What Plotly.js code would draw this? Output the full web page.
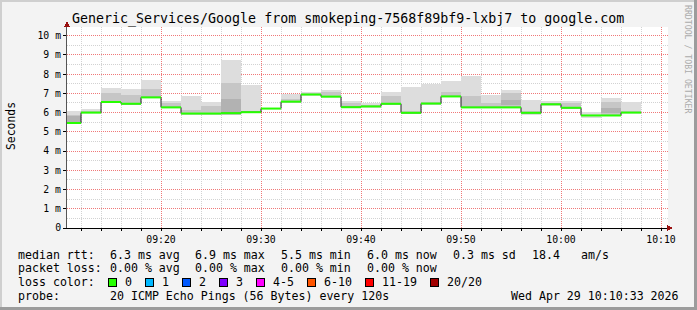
<!DOCTYPE html>
<html>
<head>
<meta charset="utf-8">
<script src="https://cdn.plot.ly/plotly-3.0.1.min.js"></script>
<style>html,body{margin:0;padding:0;background:#f3f3f3;}#chart{width:697px;height:310px;}
g.shapelayer path{shape-rendering:crispEdges;}</style>
</head>
<body>
<div id="chart"></div>
<script>
// ---- data ----
var stepEnd = ['09:12','09:14','09:16','09:18','09:20','09:22','09:24','09:26','09:28','09:30',
               '09:32','09:34','09:36','09:38','09:40','09:42','09:44','09:46','09:48','09:50',
               '09:52','09:54','09:56','09:58','10:00','10:02','10:04','10:06','10:08'];
var medianRtt = [5.46,6.00,6.55,6.46,6.79,6.27,5.95,5.95,5.97,6.02,
                 6.21,6.57,6.94,6.83,6.28,6.32,6.46,5.99,6.47,6.84,
                 6.27,6.27,6.27,5.99,6.43,6.25,5.85,5.85,6.00];
var pingMin = [5.40,5.98,6.50,6.37,6.75,6.24,5.85,5.85,5.85,5.97,
               6.18,6.52,6.88,6.80,6.24,6.22,6.37,5.95,6.42,6.80,
               6.22,6.22,6.22,5.90,6.33,6.20,5.74,5.80,5.97];
var pingMax = [6.10,6.20,7.30,7.24,7.70,6.61,6.84,6.53,8.75,7.41,
               6.25,6.96,7.07,7.15,6.61,6.49,7.05,7.31,7.50,7.66,
               7.88,6.89,7.15,6.67,6.61,6.61,6.03,6.77,6.53];
var pingLo = [5.45,6.00,6.58,6.45,6.80,6.28,5.92,5.92,5.90,5.98,
              6.20,6.55,6.92,6.84,6.28,6.30,6.50,5.98,6.45,6.84,
              6.30,6.27,6.30,5.98,6.42,6.25,5.82,5.90,5.98];
var pingHi = [5.90,6.10,7.00,6.93,7.24,6.50,6.15,6.32,7.53,6.10,
              6.22,6.70,7.02,7.05,6.50,6.38,6.84,6.10,6.55,7.05,
              6.84,6.50,7.00,6.10,6.50,6.50,5.90,6.53,6.10];
var pingLo2 = [5.50,null,null,null,null,null,null,null,6.04,null,
               null,null,null,null,null,null,null,null,null,null,
               null,null,6.40,null,null,null,null,5.97,null];
var pingHi2 = [5.80,null,null,null,null,null,null,null,6.72,null,
               null,null,null,null,null,null,null,null,null,null,
               null,null,6.67,null,null,null,null,6.24,null];
var yTickVals = [0,1,2,3,4,5,6,7,8,9,10];
var yTickText = ['0','1 m','2 m','3 m','4 m','5 m','6 m','7 m','8 m','9 m','10 m'];
var lossLabels = ['0','1','2','3','4-5','6-10','11-19','20/20'];
var lossColors = ['#26ff00','#00b8ff','#0059ff','#7e00ff','#ff00ff','#ff5500','#ff0000','#a10000'];

// ---- helpers ----
var STEP = 120000;
function toMs(hm, s) { var p = hm.split(':'); return Date.UTC(2026, 3, 29, +p[0], +p[1], s || 0); }
var ends = stepEnd.map(function (t) { return toMs(t); });
var starts = ends.map(function (e) { return e - STEP; });
var mids = ends.map(function (e) { return e - STEP / 2; });

var L = 67, R = 668, T = 27, B = 228, W = 697, H = 310;
function px(x) { return (x - L) / (R - L); }
function py(y) { return (B - y) / (B - T); }

function band(lo, hi, color) {
  return {
    type: 'bar', x: mids, base: lo,
    y: lo.map(function (v, i) { return (v == null || hi[i] == null) ? null : hi[i] - v; }),
    width: STEP, marker: { color: color, line: { width: 0 } },
    hoverinfo: 'skip', showlegend: false
  };
}

var traces = [];
traces.push(band(pingMin, pingMax, '#dddddd'));
traces.push(band(pingLo, pingHi, '#c6c6c6'));
traces.push(band(pingLo2, pingHi2, '#b2b2b2'));

// connecting step line (black verticals)
traces.push({
  type: 'scatter', mode: 'lines',
  x: starts.concat([ends[ends.length - 1]]),
  y: medianRtt.concat([medianRtt[medianRtt.length - 1]]),
  line: { shape: 'hv', color: '#202020', width: 1 }, hoverinfo: 'skip', showlegend: false
});
// green median segments
var gx = [], gy = [];
for (var i = 0; i < medianRtt.length; i++) {
  gx.push(starts[i], ends[i], null); gy.push(medianRtt[i], medianRtt[i], null);
}
traces.push({
  type: 'scatter', mode: 'lines', x: gx, y: gy,
  line: { color: lossColors[0], width: 2 }, hoverinfo: 'skip', showlegend: false
});

var mono = 'DejaVu Sans Mono, monospace';
var ann = [];
function txt(x, y, s, opt) {
  opt = opt || {};
  ann.push({
    xref: 'paper', yref: 'paper', x: px(x), y: py(y), text: s, showarrow: false,
    xanchor: opt.xanchor || 'left', yanchor: 'middle', textangle: opt.angle || 0,
    font: { family: mono, size: opt.size || 11.6, color: opt.color || '#000' }
  });
}
txt(348, 19, 'Generic_Services/Google from smokeping-7568f89bf9-lxbj7 to google.com', { xanchor: 'center', size: 13.3 });
txt(11, 126, 'Seconds', { xanchor: 'center', angle: -90, size: 11.4 });
txt(688, 59, 'RRDTOOL / TOBI OETIKER', { xanchor: 'center', angle: 90, size: 8.2, color: '#ababab' });

// legend rows
var r1 = 254.7, r2 = 268, r3 = 282.3, r4 = 296;
txt(16, r1, 'median rtt:');
txt(107.6, r1, '6.3 ms avg'); txt(193, r1, '6.9 ms max'); txt(279, r1, '5.5 ms min');
txt(365, r1, '6.0 ms now'); txt(451, r1, '0.3 ms sd'); txt(530, r1, '18.4'); txt(579, r1, 'am/s');
txt(16, r2, 'packet loss:');
txt(107.6, r2, '0.00 % avg'); txt(193, r2, '0.00 % max'); txt(279, r2, '0.00 % min'); txt(365, r2, '0.00 % now');
txt(16, r3, 'loss color:');
var boxX = [108.4, 145.3, 182.7, 219.6, 256.9, 307.6, 365.3, 430];
var shapes = [];

// grid: gray dotted minor lines, red dotted major lines (drawn below the data)
var gridGray = { color: '#d2d2d2', width: 1, dash: '1px,1px' };
var gridRed = { color: '#f07878', width: 1, dash: '1px,1px' };
for (var t = toMs('09:12'); t <= toMs('10:10'); t += STEP) {
  var major = (t - toMs('09:00')) % 600000 === 0;
  shapes.push({ type: 'line', layer: 'below', xref: 'x', yref: 'paper', x0: t, x1: t, y0: 0, y1: 1,
    line: major ? gridRed : gridGray });
}
for (var h = 1; h <= 20; h++) {
  var yv = h / 2;
  shapes.push({ type: 'line', layer: 'below', xref: 'paper', yref: 'y', x0: 0, x1: 1, y0: yv, y1: yv,
    line: (h % 2 === 0) ? gridRed : gridGray });
}

for (var k = 0; k < lossLabels.length; k++) {
  shapes.push({ type: 'rect', xref: 'paper', yref: 'paper', x0: px(boxX[k]), x1: px(boxX[k] + 8),
    y0: py(278.3), y1: py(286.5), fillcolor: lossColors[k], line: { color: '#000', width: 1 } });
  txt(boxX[k] + 14.5, r3, lossLabels[k]);
}
txt(16, r4, 'probe:');
txt(107.6, r4, '20 ICMP Echo Pings (56 Bytes) every 120s');
txt(680.5, r4, 'Wed Apr 29 10:10:33 2026', { xanchor: 'right' });

// axis arrows
shapes.push({ type: 'path', xref: 'paper', yref: 'paper',
  path: 'M ' + px(64) + ' ' + py(27) + ' L ' + px(67) + ' ' + py(21.5) + ' L ' + px(70) + ' ' + py(27) + ' Z',
  fillcolor: '#9a1010', line: { width: 0 } });
shapes.push({ type: 'path', xref: 'paper', yref: 'paper',
  path: 'M ' + px(667) + ' ' + py(225) + ' L ' + px(673) + ' ' + py(228) + ' L ' + px(667) + ' ' + py(231) + ' Z',
  fillcolor: '#9a1010', line: { width: 0 } });
// frame of the image
shapes.push({ type: 'line', xref: 'paper', yref: 'paper', x0: px(0), x1: px(W), y0: py(1), y1: py(1), line: { color: '#cfcfcf', width: 2 } });
shapes.push({ type: 'line', xref: 'paper', yref: 'paper', x0: px(1), x1: px(1), y0: py(0), y1: py(H), line: { color: '#cfcfcf', width: 2 } });
shapes.push({ type: 'line', xref: 'paper', yref: 'paper', x0: px(0), x1: px(W), y0: py(308.5), y1: py(308.5), line: { color: '#9c9c9c', width: 3 } });
shapes.push({ type: 'line', xref: 'paper', yref: 'paper', x0: px(695.5), x1: px(695.5), y0: py(0), y1: py(H), line: { color: '#9c9c9c', width: 3 } });

var layout = {
  width: W, height: H,
  margin: { l: L, r: W - R, t: T, b: H - B, pad: 0 },
  paper_bgcolor: '#f3f3f3', plot_bgcolor: '#ffffff',
  barmode: 'overlay', bargap: 0, showlegend: false,
  xaxis: {
    type: 'date', range: [toMs('09:10', 36), toMs('10:10', 42)],
    tickformat: '%H:%M', dtick: 600000, tick0: toMs('09:00'),
    showgrid: false,
    minor: { dtick: STEP, tick0: toMs('09:00'), showgrid: false, ticks: 'outside', ticklen: 2, tickcolor: '#000', tickwidth: 1 },
    ticks: 'outside', ticklen: 2, tickcolor: '#000',
    showline: true, linecolor: '#000', linewidth: 1, zeroline: false,
    tickfont: { family: mono, size: 9.8, color: '#000' }, fixedrange: true
  },
  yaxis: {
    range: [0, 10.45], tickvals: yTickVals, ticktext: yTickText,
    showgrid: false,
    ticks: 'outside', ticklen: 3, tickcolor: '#000',
    showline: true, linecolor: '#555', linewidth: 1, zeroline: false,
    tickfont: { family: mono, size: 9.8, color: '#000' }, fixedrange: true
  },
  annotations: ann, shapes: shapes
};

Plotly.newPlot('chart', traces, layout, { staticPlot: true, displayModeBar: false });
</script>
</body>
</html>
